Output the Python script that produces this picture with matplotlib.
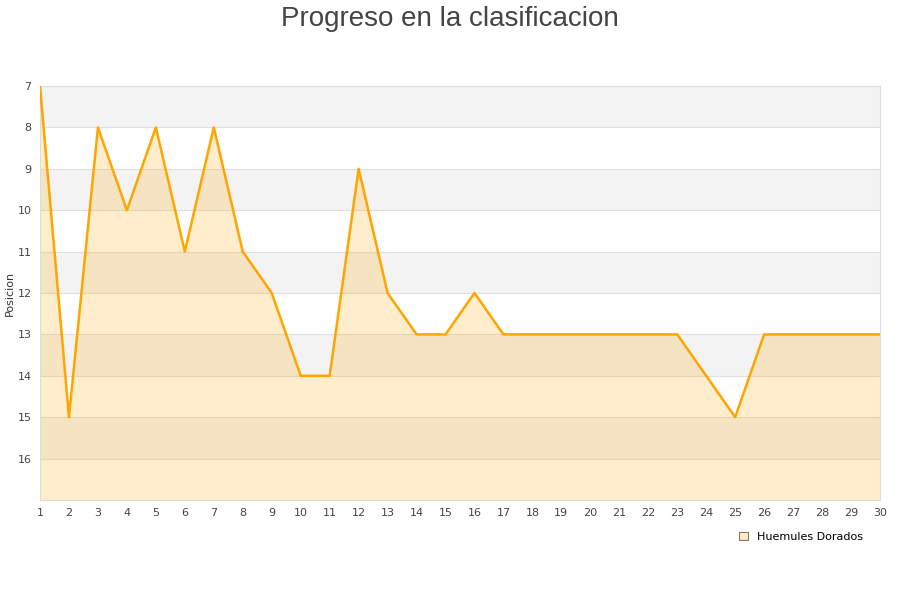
import matplotlib
matplotlib.use('Agg')
import matplotlib.pyplot as plt
from matplotlib.patches import Patch

# datos de la clasificacion
jornadas = list(range(1, 31))
posicion = [7, 15, 8, 10, 8, 11, 8, 11, 12, 14, 14, 9, 12, 13, 13, 12, 13, 13, 13, 13,
            13, 13, 13, 14, 15, 13, 13, 13, 13, 13]
equipo = 'Huemules Dorados'

fig = plt.figure(figsize=(9, 6), dpi=100)
ax = fig.add_axes([40 / 900, 1 - 500 / 600, 840 / 900, 414 / 600])

# bandas alternas
for y in range(7, 17):
    if (y - 7) % 2 == 0:
        ax.axhspan(y, y + 1, color='#f3f3f3', zorder=0, lw=0)
    ax.axhline(y, color='#e0e0e0', lw=0.8, zorder=1)

ax.fill_between(jornadas, posicion, 17, color='#ffa500', alpha=0.2, lw=0, zorder=2)
ax.plot(jornadas, posicion, color='#ffa500', lw=1.8, zorder=3)

ax.set_xlim(1, 30)
ax.set_ylim(17, 7)
ax.set_xticks(jornadas)
ax.set_yticks(range(7, 17))
ax.tick_params(length=0, labelsize=8, colors='#444444', pad=6)
for s in ax.spines.values():
    s.set_color('#dddddd')
ax.set_ylabel('Posicion', fontsize=8, color='#333333', labelpad=2)

fig.suptitle('Progreso en la clasificacion', fontsize=20, color='#444444', y=0.99,
             family='Liberation Sans')

fig.legend(handles=[Patch(facecolor='#ffebc8', edgecolor='#8a7a5a', lw=0.8, label=equipo)],
           loc='center right', bbox_to_anchor=(0.97, 0.105), frameon=False,
           fontsize=8, handlelength=0.8, handleheight=0.8, handletextpad=0.8)

plt.savefig('out.png')
